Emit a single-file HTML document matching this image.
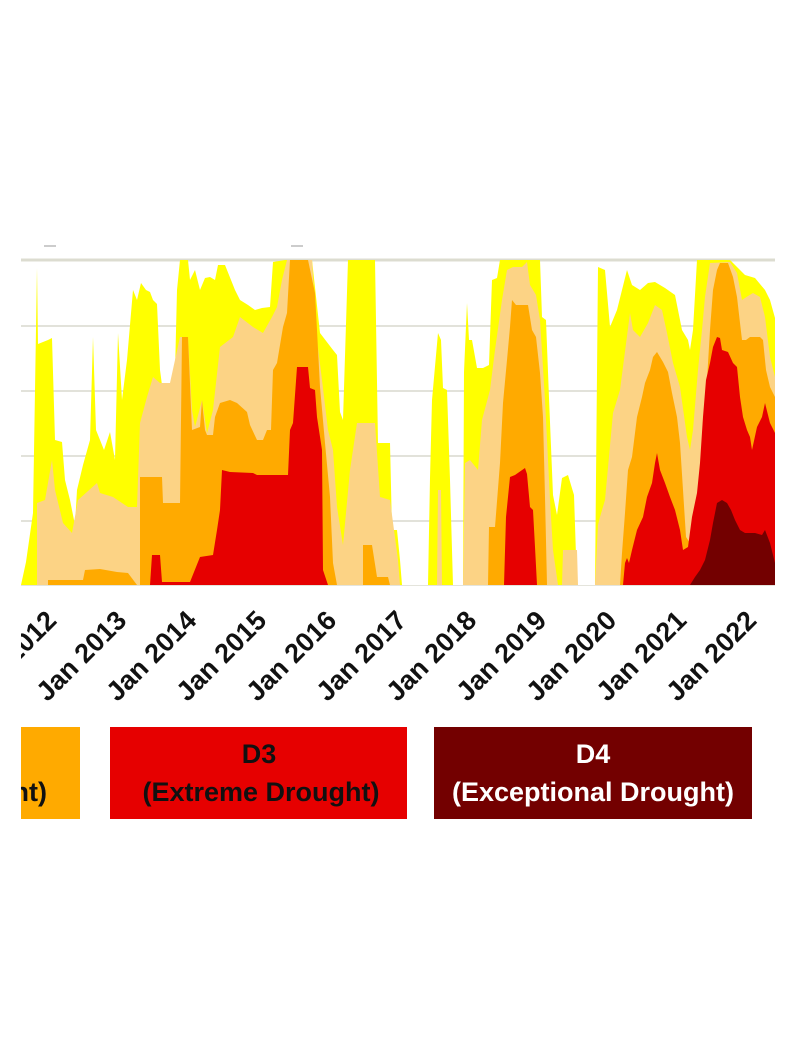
<!DOCTYPE html>
<html><head><meta charset="utf-8"><style>
html,body{margin:0;padding:0;background:#fff;width:809px;height:1059px;overflow:hidden}
svg{display:block}
</style></head><body>
<svg width="809" height="1059" viewBox="0 0 809 1059" xmlns="http://www.w3.org/2000/svg">
<rect width="809" height="1059" fill="#fff"/>
<rect x="44" y="245" width="12" height="2" fill="#ccc"/>
<rect x="291" y="245" width="12" height="2" fill="#ccc"/>
<g stroke="#e2e2da" stroke-width="2">
<line x1="21" y1="326" x2="775" y2="326"/>
<line x1="21" y1="391" x2="775" y2="391"/>
<line x1="21" y1="456" x2="775" y2="456"/>
<line x1="21" y1="521" x2="775" y2="521"/>
</g>
<line x1="21" y1="260" x2="775" y2="260" stroke="#dcdcd0" stroke-width="3"/>
<!-- D0 -->
<polygon fill="#ffff00" points="21,585 26,562 33,513 37,268 38,344 48,340 52,338 55,440 62,442 65,480 70,500 75,525 77,490 83,465 90,440 93,337 96,430 100,440 104,450 110,432 115,460 118,333 122,400 127,360 133,290 137,300 141,283 146,290 150,292 153,300 157,304 160,370 162,385 165,455 173,455 177,290 180,260 188,260 190,280 195,270 200,290 205,278 210,277 215,280 218,265 225,265 235,290 240,300 248,305 255,310 262,308 270,307 273,262 285,260 312,260 320,333 333,350 337,355 340,412 343,420 348,260 375,260 378,443 390,443 392,530 397,530 400,560 402,585 428,585 430,478 432,400 438,333 441,340 443,388 447,390 450,480 453,585 463,585 464,372 467,303 469,340 472,340 477,368 483,368 489,365 492,280 497,278 500,260 540,260 542,317 546,320 549,398 553,495 557,515 562,478 568,475 574,495 577,585 595,585 598,267 605,270 610,327 617,310 622,290 627,270 632,285 640,290 648,283 655,282 665,288 675,295 682,330 688,340 690,350 693,330 697,260 730,260 740,270 745,275 755,278 765,290 770,300 775,318 775,585"/>
<!-- D1 -->
<polygon fill="#fcd385" points="37,585 37,503 45,500 52,460 55,490 63,523 72,533 78,500 97,483 100,493 113,497 128,507 137,507 140,423 147,397 153,377 160,383 170,383 180,337 188,337 192,410 195,427 202,400 207,433 213,410 220,347 233,337 240,317 253,327 263,333 272,317 277,307 282,280 287,260 312,260 317,340 322,380 328,430 333,450 337,507 343,545 350,470 357,423 375,423 380,497 390,500 398,560 400,585 437,585 438,490 441,490 442,585 463,585 465,463 470,460 478,470 482,420 490,390 495,350 502,300 507,270 513,267 522,267 527,262 530,285 536,295 540,320 545,400 550,500 553,550 558,585 562,585 563,550 577,550 578,585 595,585 598,525 600,517 605,500 613,413 620,390 630,313 633,330 640,337 648,323 655,305 662,310 667,333 673,363 680,387 687,437 690,450 693,430 698,370 702,330 705,297 710,263 730,262 737,273 742,300 748,296 753,293 760,297 765,317 770,357 775,377 775,585"/>
<!-- D2 -->
<polygon fill="#ffaa00" points="48,585 48,580 83,580 85,570 100,569 117,572 128,573 137,585 140,585 140,477 162,477 163,503 180,503 182,337 188,337 192,430 200,427 202,400 205,430 207,435 213,435 215,417 220,403 230,400 237,403 247,412 250,425 257,440 263,440 267,430 271,430 273,370 277,363 283,327 287,313 290,260 308,260 315,293 317,330 320,387 325,443 330,497 333,563 337,585 363,585 363,545 372,545 377,577 388,577 390,585 488,585 489,527 495,527 500,463 503,403 507,360 510,327 512,300 516,305 528,305 532,330 536,337 540,373 543,417 545,497 547,585 620,585 622,553 625,513 628,470 632,457 637,417 642,397 645,383 650,370 653,357 657,352 663,362 668,372 672,393 677,417 680,443 683,490 686,537 690,543 693,540 697,523 700,480 703,420 707,380 710,330 713,290 717,270 720,263 728,263 733,277 737,297 740,323 742,340 746,340 750,337 760,337 763,340 766,370 770,387 775,397 775,585"/>
<!-- D3 -->
<polygon fill="#e60000" points="150,585 152,555 160,555 162,582 190,582 200,557 213,555 217,530 220,510 222,470 230,472 253,473 257,475 288,475 290,430 293,423 297,367 308,367 310,388 315,390 317,417 322,450 323,570 328,585 504,585 506,517 510,477 515,475 525,468 527,474 530,507 533,510 535,547 537,585 623,585 625,563 627,558 629,563 632,550 637,530 643,517 647,497 652,483 655,463 657,453 660,470 665,483 670,497 675,510 680,530 683,550 688,547 692,517 697,493 700,463 703,417 706,380 710,363 713,347 717,337 720,338 722,350 728,352 733,363 737,367 740,397 743,417 747,430 750,437 752,450 757,427 762,417 765,403 770,423 775,433 775,585"/>
<!-- D4 -->
<polygon fill="#730000" points="690,585 695,577 700,570 705,560 710,540 713,523 717,503 722,500 727,503 731,510 735,520 740,530 745,533 755,533 762,535 765,530 770,543 775,563 775,585"/>
<line x1="21" y1="585.5" x2="775" y2="585.5" stroke="#e4e4dc" stroke-width="1"/>
<g font-family="Liberation Sans, Arial, sans-serif" font-weight="bold" font-size="27" fill="#111" text-anchor="end">
<text transform="translate(58,622) rotate(-45)">Jan 2012</text>
<text transform="translate(128,622) rotate(-45)">Jan 2013</text>
<text transform="translate(198,622) rotate(-45)">Jan 2014</text>
<text transform="translate(268,622) rotate(-45)">Jan 2015</text>
<text transform="translate(338,622) rotate(-45)">Jan 2016</text>
<text transform="translate(408,622) rotate(-45)">Jan 2017</text>
<text transform="translate(478,622) rotate(-45)">Jan 2018</text>
<text transform="translate(548,622) rotate(-45)">Jan 2019</text>
<text transform="translate(618,622) rotate(-45)">Jan 2020</text>
<text transform="translate(688,622) rotate(-45)">Jan 2021</text>
<text transform="translate(758,622) rotate(-45)">Jan 2022</text>
</g>
<rect x="0" y="586" width="21" height="120" fill="#fff"/>
<rect x="21" y="727" width="59" height="92" fill="#ffaa00"/>
<rect x="110" y="727" width="297" height="92" fill="#e60000"/>
<rect x="434" y="727" width="318" height="92" fill="#730000"/>
<g font-family="Liberation Sans, Arial, sans-serif" font-weight="bold" font-size="27" text-anchor="middle">
<text x="-10" y="801" fill="#111">Drought)</text>
<text x="259" y="763" fill="#111">D3</text>
<text x="261" y="801" fill="#111">(Extreme Drought)</text>
<text x="593" y="763" fill="#fff">D4</text>
<text x="593" y="801" fill="#fff">(Exceptional Drought)</text>
</g>
<rect x="0" y="727" width="21" height="92" fill="#fff"/>
</svg>
</body></html>
